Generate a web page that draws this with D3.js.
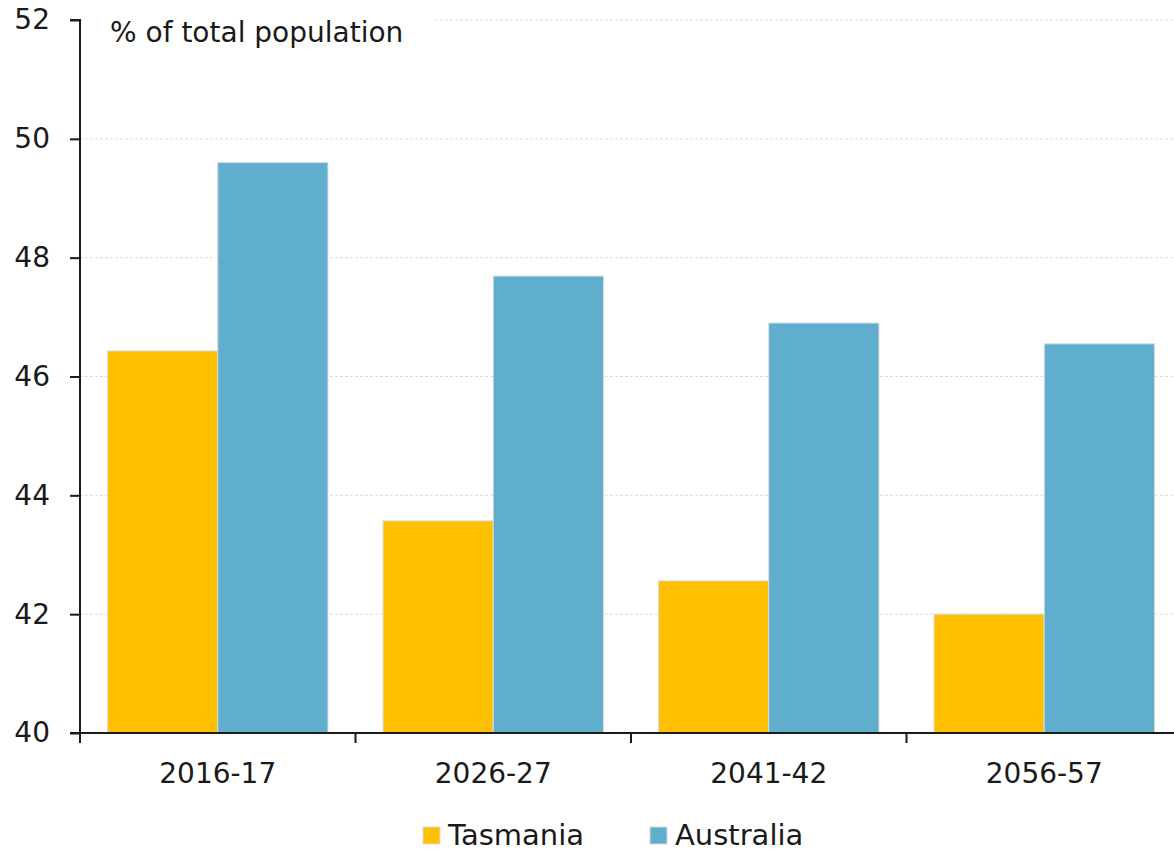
<!DOCTYPE html>
<html><head><meta charset="utf-8">
<script src="https://cdn.jsdelivr.net/npm/d3@7"></script>
<style>body{margin:0;background:#fff}svg{display:block;font-family:"DejaVu Sans",sans-serif}</style>
</head><body>
<svg id="c" width="1174" height="852"></svg>
<script>
const categories = ["2016-17","2026-27","2041-42","2056-57"];
const seriesNames = ["Tasmania","Australia"];
const tasmania = [46.43, 43.57, 42.56, 42.0];
const australia = [49.6, 47.69, 46.9, 46.55];
const yTicks = [40,42,44,46,48,50,52];
const colors = {Tasmania:"#FFC000", Australia:"#60AECD"};

const svg = d3.select("#c");
const L = 80, R = 1182, T = 20, B = 733;
const FONT = "DejaVu Sans, sans-serif";
const x = d3.scaleBand().domain(categories).range([L, R]).paddingInner(0).paddingOuter(0);
const x1 = d3.scaleBand().domain(seriesNames).range([0, x.bandwidth()]).paddingInner(0).paddingOuter(0.25);
const y = d3.scaleLinear().domain([40,52]).range([B, T]);

// gridlines
svg.append("g").selectAll("line").data(yTicks.filter(d=>d>40)).join("line")
  .attr("x1", L).attr("x2", 1174).attr("y1", d=>y(d)).attr("y2", d=>y(d))
  .attr("stroke", "#dcdcdc").attr("stroke-width", 1).attr("stroke-dasharray", "3,2");

const data = categories.map((c,i)=>({cat:c, values:[{s:"Tasmania", v:tasmania[i]},{s:"Australia", v:australia[i]}]}));
svg.append("g").selectAll("g").data(data).join("g")
  .attr("transform", d=>`translate(${x(d.cat)},0)`)
  .selectAll("rect").data(d=>d.values).join("rect")
  .attr("x", d=>x1(d.s)).attr("width", x1.bandwidth())
  .attr("y", d=>y(d.v)).attr("height", d=>B - y(d.v))
  .attr("fill", d=>colors[d.s]).attr("stroke", "#d9d9d9").attr("stroke-width", 1);

// title box
svg.append("rect").attr("x", 83).attr("y", 8).attr("width", 350).attr("height", 42).attr("fill", "#fff");
svg.append("text").attr("x", 110).attr("y", 42).attr("font-size", 28).attr("fill", "#1a1a1a").attr("font-family", FONT).text("% of total population");

// y axis
const ya = svg.append("g").attr("transform", `translate(${L},0)`)
  .call(d3.axisLeft(y).tickValues(yTicks).tickSize(10).tickPadding(20).tickFormat(d3.format("d")));
ya.select(".domain").attr("stroke", "#1a1a1a").attr("stroke-width", 2).attr("d", `M-10,${T}H0V${B}H-10`);
ya.selectAll(".tick line").attr("stroke", "#1a1a1a").attr("stroke-width", 2);
ya.selectAll("text").attr("font-size", 28).attr("fill", "#1a1a1a").attr("font-family", FONT);

// x axis
svg.append("line").attr("x1", L).attr("x2", 1174).attr("y1", B).attr("y2", B).attr("stroke", "#1a1a1a").attr("stroke-width", 2);
const xa = svg.append("g").attr("transform", `translate(0,${B})`)
  .call(d3.axisBottom(x).tickSize(0).tickPadding(30));
xa.select(".domain").remove();
xa.selectAll("text").attr("font-size", 28).attr("fill", "#1a1a1a").attr("font-family", FONT);
svg.append("g").selectAll("line").data(categories).join("line")
  .attr("x1", d=>x(d)).attr("x2", d=>x(d)).attr("y1", B).attr("y2", B+10)
  .attr("stroke", "#1a1a1a").attr("stroke-width", 2);

// legend
const leg = svg.append("g");
const legX = [423, 650];
seriesNames.forEach((s,i)=>{
  leg.append("rect").attr("x", legX[i]).attr("y", 827).attr("width", 17).attr("height", 17)
    .attr("fill", colors[s]).attr("stroke", "#d9d9d9").attr("stroke-width", 1);
  leg.append("text").attr("x", legX[i]+25).attr("y", 845).attr("font-size", 29).attr("fill", "#1a1a1a").attr("font-family", FONT).text(s);
});
</script>
</body></html>
